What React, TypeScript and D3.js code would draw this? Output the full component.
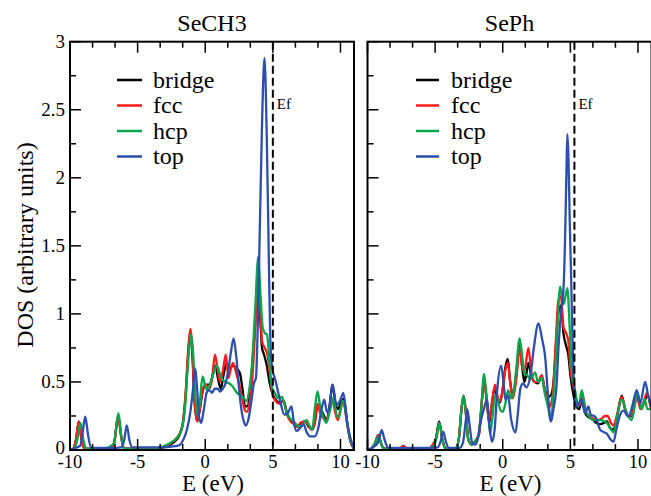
import React from "react";
import * as d3 from "d3";

type Pt = [number, number];

const seriesNames = ["bridge", "fcc", "hcp", "top"];
const seriesColors = ["#000000", "#ff1a1a", "#0aa64a", "#2c4eae"];
const panelTitles = ["SeCH3", "SePh"];
const fermiEnergies = [5.0, 5.3];
const xMajorTicks = [-10, -5, 0, 5, 10];
const xMinorTicks = [-8.333, -6.667, -3.333, -1.667, 1.667, 3.333, 6.667, 8.333];
const yMajorTicks = [0, 0.5, 1, 1.5, 2, 2.5, 3];
const yTickLabels = ["0", "0.5", "1", "1.5", "2", "2.5", "3"];
const yMinorTicks = [0.25, 0.75, 1.25, 1.75, 2.25, 2.75];

// ---- SeCH3 ----
const seCH3Bridge: Pt[] = [
  [-10, 0], [-9.75, 0.01], [-9.55, 0.08], [-9.35, 0.21], [-9.15, 0.08], [-8.95, 0.01], [-8.5, 0.01], [-7.5, 0.01],
  [-6.9, 0.01], [-6.7, 0.07], [-6.45, 0.25], [-6.2, 0.09], [-6.0, 0.01], [-5, 0.01], [-4, 0.01], [-3.3, 0.015],
  [-2.8, 0.03], [-2.3, 0.06], [-1.9, 0.11], [-1.65, 0.2], [-1.45, 0.4], [-1.25, 0.72], [-1.1, 0.86], [-0.95, 0.7],
  [-0.8, 0.38], [-0.6, 0.21], [-0.4, 0.3], [-0.15, 0.45], [0.1, 0.48], [0.35, 0.48], [0.55, 0.55], [0.75, 0.62],
  [0.95, 0.52], [1.15, 0.45], [1.35, 0.55], [1.55, 0.63], [1.8, 0.6], [2.05, 0.62], [2.3, 0.6], [2.55, 0.57],
  [2.75, 0.45], [2.95, 0.32], [3.1, 0.32], [3.3, 0.42], [3.5, 0.65], [3.7, 0.95], [3.9, 1.2], [4.05, 1.0],
  [4.2, 0.75], [4.35, 0.7], [4.55, 0.62], [4.75, 0.5], [4.95, 0.42], [5.2, 0.37], [5.5, 0.35], [5.8, 0.36],
  [6.05, 0.27], [6.3, 0.22], [6.55, 0.2], [6.8, 0.17], [7.1, 0.2], [7.4, 0.21], [7.65, 0.17], [7.9, 0.15],
  [8.1, 0.2], [8.3, 0.33], [8.5, 0.3], [8.7, 0.27], [8.95, 0.22], [9.2, 0.33], [9.4, 0.48], [9.6, 0.36],
  [9.8, 0.3], [10.05, 0.35], [10.25, 0.38], [10.5, 0.2], [10.75, 0.06], [11, 0.01],
];
const seCH3Fcc: Pt[] = [
  [-10, 0], [-9.75, 0.01], [-9.55, 0.08], [-9.35, 0.21], [-9.15, 0.08], [-8.95, 0.01], [-8.5, 0.01], [-7.5, 0.01],
  [-6.9, 0.01], [-6.7, 0.07], [-6.45, 0.25], [-6.2, 0.09], [-6.0, 0.01], [-5, 0.01], [-4, 0.01], [-3.3, 0.015],
  [-2.8, 0.035], [-2.3, 0.07], [-1.9, 0.12], [-1.65, 0.2], [-1.45, 0.42], [-1.25, 0.75], [-1.1, 0.89], [-0.95, 0.72],
  [-0.8, 0.38], [-0.6, 0.21], [-0.4, 0.3], [-0.15, 0.46], [0.05, 0.48], [0.3, 0.45], [0.5, 0.52], [0.72, 0.7],
  [0.9, 0.6], [1.1, 0.5], [1.3, 0.58], [1.52, 0.7], [1.72, 0.53], [1.9, 0.6], [2.05, 0.64], [2.25, 0.58],
  [2.47, 0.5], [2.7, 0.4], [2.9, 0.3], [3.08, 0.28], [3.3, 0.36], [3.5, 0.55], [3.7, 0.9], [3.92, 1.27],
  [4.08, 1.0], [4.2, 0.8], [4.4, 0.75], [4.6, 0.7], [4.8, 0.54], [5.0, 0.4], [5.2, 0.36], [5.5, 0.34],
  [5.75, 0.37], [6.05, 0.26], [6.3, 0.21], [6.55, 0.19], [6.8, 0.17], [7.05, 0.2], [7.35, 0.21], [7.6, 0.19],
  [7.85, 0.15], [8.1, 0.2], [8.3, 0.34], [8.5, 0.27], [8.75, 0.23], [9.0, 0.22], [9.2, 0.3], [9.4, 0.37],
  [9.6, 0.28], [9.8, 0.22], [10.0, 0.3], [10.2, 0.36], [10.45, 0.22], [10.7, 0.08], [11, 0.01],
];
const seCH3Hcp: Pt[] = [
  [-10, 0], [-9.7, 0.01], [-9.45, 0.08], [-9.22, 0.2], [-9.0, 0.07], [-8.8, 0.01], [-7.5, 0.01], [-6.75, 0.05],
  [-6.42, 0.27], [-6.15, 0.06], [-5.95, 0.01], [-5, 0.01], [-4, 0.012], [-3.3, 0.02], [-2.8, 0.04], [-2.3, 0.07],
  [-2.0, 0.1], [-1.75, 0.15], [-1.5, 0.3], [-1.3, 0.6], [-1.05, 0.85], [-0.9, 0.72], [-0.75, 0.42], [-0.55, 0.25],
  [-0.4, 0.35], [-0.2, 0.54], [0.0, 0.47], [0.15, 0.44], [0.4, 0.5], [0.6, 0.56], [0.85, 0.62], [1.05, 0.57],
  [1.25, 0.52], [1.5, 0.5], [1.75, 0.49], [2.0, 0.47], [2.35, 0.42], [2.65, 0.4], [2.85, 0.38], [3.05, 0.36],
  [3.25, 0.44], [3.45, 0.62], [3.7, 1.05], [3.92, 1.42], [4.08, 1.15], [4.25, 0.9], [4.4, 0.86], [4.56, 0.85],
  [4.75, 0.65], [4.93, 0.46], [5.15, 0.42], [5.4, 0.38], [5.67, 0.39], [5.85, 0.34], [6.05, 0.27], [6.3, 0.23],
  [6.55, 0.21], [6.8, 0.18], [7.05, 0.17], [7.3, 0.2], [7.5, 0.22], [7.7, 0.18], [7.9, 0.15], [8.1, 0.3],
  [8.3, 0.43], [8.5, 0.32], [8.7, 0.25], [8.95, 0.2], [9.2, 0.28], [9.5, 0.39], [9.7, 0.26], [9.9, 0.24],
  [10.15, 0.36], [10.35, 0.3], [10.55, 0.16], [10.75, 0.07], [11, 0.01],
];
const seCH3Top: Pt[] = [
  [-10, 0], [-9.6, 0.015], [-9.25, 0.03], [-9.05, 0.14], [-8.87, 0.245], [-8.65, 0.1], [-8.45, 0.02], [-8, 0.015],
  [-7, 0.015], [-6.2, 0.02], [-6.0, 0.07], [-5.8, 0.18], [-5.6, 0.07], [-5.4, 0.02], [-4, 0.02], [-3, 0.02],
  [-2.5, 0.025], [-2.1, 0.03], [-1.85, 0.04], [-1.6, 0.08], [-1.35, 0.15], [-1.1, 0.28], [-0.9, 0.45], [-0.74, 0.6],
  [-0.6, 0.45], [-0.45, 0.24], [-0.3, 0.2], [-0.1, 0.3], [0.1, 0.42], [0.3, 0.44], [0.5, 0.42], [0.7, 0.45],
  [0.9, 0.45], [1.1, 0.43], [1.3, 0.45], [1.5, 0.49], [1.7, 0.58], [1.9, 0.72], [2.1, 0.82], [2.3, 0.68],
  [2.5, 0.45], [2.7, 0.28], [2.85, 0.21], [3.0, 0.18], [3.2, 0.23], [3.4, 0.35], [3.6, 0.49], [3.75, 0.53],
  [3.88, 0.9], [4.02, 1.55], [4.2, 2.4], [4.38, 2.88], [4.55, 2.3], [4.68, 1.54], [4.8, 0.85], [4.95, 0.6],
  [5.17, 0.52], [5.5, 0.38], [5.85, 0.26], [6.1, 0.27], [6.38, 0.32], [6.55, 0.2], [6.75, 0.14], [7.0, 0.16],
  [7.27, 0.19], [7.5, 0.13], [7.76, 0.1], [8.1, 0.1], [8.4, 0.18], [8.6, 0.3], [8.8, 0.37], [9.0, 0.28],
  [9.15, 0.3], [9.42, 0.48], [9.7, 0.33], [9.95, 0.36], [10.22, 0.42], [10.45, 0.23], [10.7, 0.1], [10.95, 0.02],
];

// ---- SePh ----
const sePhBridge: Pt[] = [
  [-10, 0], [-9.7, 0.01], [-9.45, 0.05], [-9.2, 0.11], [-9.0, 0.05], [-8.8, 0.01], [-8, 0.01], [-7.6, 0.01],
  [-7.35, 0.03], [-7.1, 0.01], [-5.5, 0.01], [-5.15, 0.04], [-4.95, 0.08], [-4.7, 0.21], [-4.45, 0.07], [-4.2, 0.01],
  [-3.5, 0.01], [-3.25, 0.08], [-3.05, 0.3], [-2.9, 0.4], [-2.75, 0.3], [-2.55, 0.08], [-2.3, 0.04], [-2.0, 0.07],
  [-1.75, 0.12], [-1.55, 0.35], [-1.38, 0.52], [-1.2, 0.38], [-1.0, 0.2], [-0.85, 0.3], [-0.6, 0.45], [-0.4, 0.38],
  [-0.2, 0.35], [0.0, 0.45], [0.18, 0.6], [0.37, 0.67], [0.55, 0.5], [0.75, 0.4], [1.0, 0.55], [1.25, 0.78],
  [1.45, 0.6], [1.6, 0.5], [1.75, 0.56], [1.9, 0.64], [2.1, 0.55], [2.35, 0.5], [2.6, 0.49], [2.88, 0.54],
  [3.1, 0.45], [3.4, 0.39], [3.6, 0.41], [3.8, 0.55], [3.95, 0.8], [4.1, 1.0], [4.3, 1.06], [4.5, 0.85],
  [4.7, 0.76], [4.85, 0.7], [5.0, 0.55], [5.2, 0.42], [5.4, 0.33], [5.65, 0.3], [5.85, 0.36], [6.1, 0.27],
  [6.35, 0.24], [6.6, 0.23], [6.9, 0.2], [7.2, 0.19], [7.5, 0.2], [7.7, 0.21], [7.95, 0.16], [8.2, 0.15],
  [8.45, 0.24], [8.8, 0.4], [9.05, 0.3], [9.3, 0.25], [9.55, 0.25], [9.75, 0.34], [9.95, 0.4], [10.2, 0.3],
  [10.45, 0.35], [10.7, 0.4], [10.95, 0.33],
];
const sePhFcc: Pt[] = [
  [-10, 0], [-9.7, 0.01], [-9.45, 0.05], [-9.2, 0.11], [-9.0, 0.05], [-8.8, 0.01], [-8, 0.01], [-7.6, 0.01],
  [-7.35, 0.03], [-7.1, 0.01], [-5.5, 0.01], [-5.1, 0.05], [-4.9, 0.09], [-4.7, 0.2], [-4.45, 0.07], [-4.2, 0.01],
  [-3.5, 0.01], [-3.25, 0.08], [-3.05, 0.3], [-2.9, 0.39], [-2.75, 0.3], [-2.55, 0.08], [-2.3, 0.04], [-2.0, 0.07],
  [-1.75, 0.12], [-1.55, 0.35], [-1.38, 0.5], [-1.2, 0.38], [-1.0, 0.22], [-0.8, 0.35], [-0.57, 0.48], [-0.4, 0.4],
  [-0.2, 0.36], [0.0, 0.45], [0.18, 0.58], [0.37, 0.64], [0.55, 0.5], [0.75, 0.38], [1.0, 0.52], [1.25, 0.75],
  [1.45, 0.6], [1.6, 0.58], [1.9, 0.75], [2.1, 0.58], [2.35, 0.5], [2.6, 0.5], [2.88, 0.55], [3.1, 0.45],
  [3.3, 0.36], [3.5, 0.32], [3.7, 0.42], [3.9, 0.75], [4.11, 1.1], [4.3, 1.13], [4.5, 0.9], [4.68, 0.86],
  [4.85, 0.8], [5.0, 0.6], [5.23, 0.47], [5.45, 0.36], [5.7, 0.33], [5.9, 0.4], [6.15, 0.28], [6.4, 0.25],
  [6.7, 0.23], [7.0, 0.22], [7.3, 0.23], [7.55, 0.25], [7.75, 0.25], [8.0, 0.2], [8.2, 0.18], [8.45, 0.26],
  [8.8, 0.39], [9.05, 0.3], [9.3, 0.25], [9.55, 0.26], [9.75, 0.33], [9.93, 0.39], [10.2, 0.3], [10.45, 0.36],
  [10.65, 0.42], [10.95, 0.3],
];
const sePhHcp: Pt[] = [
  [-10, 0], [-9.7, 0.01], [-9.45, 0.05], [-9.2, 0.1], [-9.0, 0.05], [-8.8, 0.01], [-5.5, 0.01], [-5.1, 0.03],
  [-4.9, 0.09], [-4.69, 0.2], [-4.45, 0.07], [-4.2, 0.01], [-3.5, 0.01], [-3.25, 0.08], [-3.05, 0.3], [-2.91, 0.4],
  [-2.75, 0.3], [-2.55, 0.08], [-2.3, 0.04], [-2.0, 0.07], [-1.8, 0.1], [-1.6, 0.3], [-1.38, 0.56], [-1.2, 0.4],
  [-1.06, 0.25], [-0.94, 0.12], [-0.75, 0.25], [-0.57, 0.4], [-0.4, 0.38], [-0.2, 0.3], [0.0, 0.28], [0.17, 0.33],
  [0.4, 0.44], [0.6, 0.38], [0.8, 0.42], [1.0, 0.6], [1.25, 0.82], [1.45, 0.68], [1.6, 0.56], [1.8, 0.55],
  [2.05, 0.52], [2.4, 0.57], [2.6, 0.5], [2.88, 0.53], [3.1, 0.42], [3.38, 0.3], [3.55, 0.21], [3.75, 0.4],
  [3.99, 0.78], [4.24, 1.2], [4.5, 1.07], [4.78, 1.19], [4.95, 0.9], [5.1, 0.6], [5.35, 0.44], [5.6, 0.32],
  [5.85, 0.44], [6.1, 0.3], [6.35, 0.25], [6.7, 0.22], [7.2, 0.22], [7.7, 0.2], [7.95, 0.16], [8.2, 0.13],
  [8.5, 0.27], [8.8, 0.37], [9.17, 0.27], [9.54, 0.22], [9.96, 0.42], [10.28, 0.3], [10.5, 0.37], [10.7, 0.3],
  [10.95, 0.3],
];
const sePhTop: Pt[] = [
  [-10, 0], [-9.6, 0.02], [-9.25, 0.05], [-9.1, 0.1], [-8.95, 0.145], [-8.75, 0.08], [-8.5, 0.02], [-8, 0.015],
  [-6, 0.015], [-4.8, 0.02], [-4.6, 0.06], [-4.4, 0.135], [-4.2, 0.06], [-4.0, 0.015], [-3.2, 0.015], [-2.95, 0.05],
  [-2.75, 0.2], [-2.62, 0.3], [-2.45, 0.18], [-2.25, 0.05], [-2.05, 0.04], [-1.85, 0.08], [-1.65, 0.2], [-1.4, 0.3],
  [-1.16, 0.37], [-1.0, 0.2], [-0.8, 0.06], [-0.6, 0.15], [-0.4, 0.45], [-0.12, 0.62], [0.1, 0.45], [0.2, 0.37],
  [0.4, 0.4], [0.6, 0.24], [0.95, 0.13], [1.1, 0.25], [1.3, 0.45], [1.5, 0.49], [1.75, 0.46], [2.05, 0.55],
  [2.3, 0.75], [2.64, 0.93], [2.9, 0.82], [3.13, 0.69], [3.35, 0.4], [3.57, 0.21], [3.75, 0.3], [3.99, 0.49],
  [4.12, 0.75], [4.3, 1.0], [4.5, 1.2], [4.62, 1.6], [4.72, 2.1], [4.78, 2.32], [4.86, 2.15], [4.95, 1.7],
  [5.05, 1.3], [5.15, 0.85], [5.25, 0.52], [5.47, 0.32], [5.84, 0.37], [6.09, 0.27], [6.33, 0.32], [6.5, 0.26],
  [6.83, 0.245], [7.2, 0.15], [7.5, 0.13], [7.7, 0.12], [7.95, 0.08], [8.19, 0.06], [8.4, 0.15], [8.63, 0.245],
  [8.92, 0.29], [9.3, 0.245], [9.6, 0.33], [9.91, 0.44], [10.16, 0.34], [10.53, 0.5], [10.75, 0.4], [10.95, 0.32],
];

const panelSeries: Pt[][][] = [
  [seCH3Bridge, seCH3Fcc, seCH3Hcp, seCH3Top],
  [sePhBridge, sePhFcc, sePhHcp, sePhTop],
];

const W = 651;
const H = 496;
const TOP = 41.7;
const BOTTOM = 450;
const PANEL_LEFTS = [70, 367.5];
const PANEL_WIDTH = 284;
const FONT = '"Liberation Serif", "Times New Roman", serif';
const txt = (size: number): React.CSSProperties => ({ fontFamily: FONT, fontSize: size });

function Panel({ idx }: { idx: number }) {
  const left = PANEL_LEFTS[idx];
  const right = left + PANEL_WIDTH;
  const x = d3.scaleLinear().domain([-10, 11]).range([left, right]);
  const y = d3.scaleLinear().domain([0, 3]).range([BOTTOM, TOP]);
  const line = d3
    .line<Pt>()
    .x((d) => x(d[0]))
    .y((d) => y(d[1]))
    .curve(d3.curveMonotoneX);
  const clipId = `clip-${idx}`;
  const ef = fermiEnergies[idx];
  const legendX0 = idx === 0 ? 117 : 416;
  const legendX1 = idx === 0 ? 142 : 439;
  const legendText = idx === 0 ? 153 : 451;
  const legendRows = [80, 105.5, 131, 156.5];
  const major = 11;
  const minor = 6;
  return (
    <g>
      <defs>
        <clipPath id={clipId}>
          <rect x={left} y={TOP} width={PANEL_WIDTH} height={BOTTOM - TOP} />
        </clipPath>
      </defs>
      <g clipPath={`url(#${clipId})`}>
        {panelSeries[idx].map((s, i) => (
          <path key={i} d={line(s) || ""} fill="none" stroke={seriesColors[i]} strokeWidth={2.3} strokeLinejoin="round" />
        ))}
      </g>
      <line x1={x(ef)} x2={x(ef)} y1={TOP} y2={BOTTOM} stroke="#000" strokeWidth={2} strokeDasharray="8,4" />
      <text x={x(ef) + 4} y={109} style={txt(15)}>Ef</text>
      {xMajorTicks.map((t) => (
        <g key={`xm${t}`}>
          <line x1={x(t)} x2={x(t)} y1={BOTTOM} y2={BOTTOM - major} stroke="#000" strokeWidth={1.5} />
          <line x1={x(t)} x2={x(t)} y1={TOP} y2={TOP + major} stroke="#000" strokeWidth={1.5} />
          <text x={x(t)} y={468} textAnchor="middle" style={txt(18.5)}>{String(t)}</text>
        </g>
      ))}
      {xMinorTicks.map((t) => (
        <g key={`xn${t}`}>
          <line x1={x(t)} x2={x(t)} y1={BOTTOM} y2={BOTTOM - minor} stroke="#000" strokeWidth={1.5} />
          <line x1={x(t)} x2={x(t)} y1={TOP} y2={TOP + minor} stroke="#000" strokeWidth={1.5} />
        </g>
      ))}
      {yMajorTicks.map((t, i) => (
        <g key={`ym${t}`}>
          <line x1={left} x2={left + major} y1={y(t)} y2={y(t)} stroke="#000" strokeWidth={1.5} />
          {idx === 0 && (
            <text x={65} y={y(t) + (t === 0 ? 4 : 6)} textAnchor="end" style={txt(19)}>{yTickLabels[i]}</text>
          )}
        </g>
      ))}
      {yMinorTicks.map((t) => (
        <line key={`yn${t}`} x1={left} x2={left + minor} y1={y(t)} y2={y(t)} stroke="#000" strokeWidth={1.5} />
      ))}
      <rect x={left} y={TOP} width={PANEL_WIDTH} height={BOTTOM - TOP} fill="none" stroke="#000" strokeWidth={2} />
      {seriesNames.map((n, i) => (
        <g key={n}>
          <line x1={legendX0} x2={legendX1} y1={legendRows[i]} y2={legendRows[i]} stroke={seriesColors[i]} strokeWidth={2.5} />
          <text x={legendText} y={legendRows[i] + 7.5} style={txt(24)}>{n}</text>
        </g>
      ))}
      <text x={(left + right) / 2} y={30.5} textAnchor="middle" style={txt(24)}>{panelTitles[idx]}</text>
      <text x={(left + right) / 2 + 1} y={490.5} textAnchor="middle" style={txt(23)}>E (eV)</text>
    </g>
  );
}

export default function App() {
  return (
    <svg width={W} height={H} style={{ position: "absolute", left: 0, top: 0, background: "#fff" }}>
      <rect x={0} y={0} width={W} height={H} fill="#fff" />
      <Panel idx={0} />
      <Panel idx={1} />
      <text transform="translate(33, 245) rotate(-90)" textAnchor="middle" style={txt(24)}>
        DOS (arbitrary units)
      </text>
    </svg>
  );
}
